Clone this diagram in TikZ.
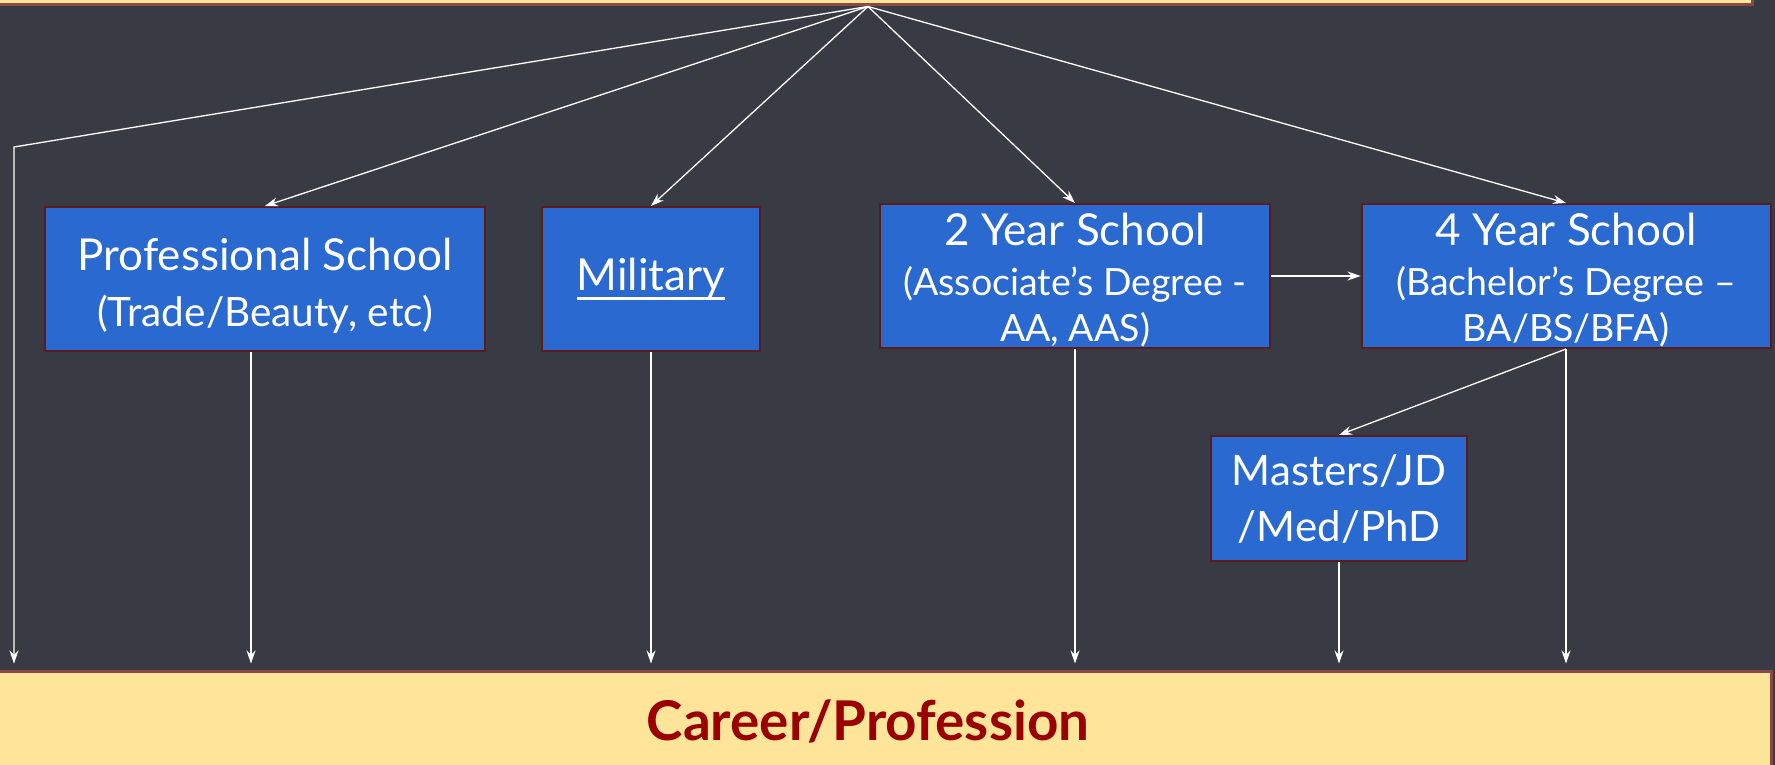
\documentclass[tikz,border=0pt]{standalone}
\usepackage{fontspec}
\setmainfont{Lato}
\usetikzlibrary{arrows.meta, calc, positioning}

\definecolor{slate}{RGB}{57,59,68}
\definecolor{boxblue}{RGB}{42,105,207}
\definecolor{boxedge}{RGB}{92,26,26}
\definecolor{bandfill}{RGB}{255,229,153}
\definecolor{bandedge}{RGB}{140,72,70}
\definecolor{careertext}{RGB}{154,0,0}

\newcommand{\headfont}{\fontsize{44}{56}\selectfont}
\newcommand{\midfont}{\fontsize{40.5}{56}\selectfont}
\newcommand{\subfont}{\fontsize{37.5}{46}\selectfont}
\newcommand{\careerfont}{\fontsize{54.8}{60}\selectfont\bfseries}
\newcommand{\underrule}[1]{\setbox0\hbox{#1}\rlap{\rule[-9pt]{\wd0}{3pt}}\box0}

\begin{document}
\begin{tikzpicture}[>={Stealth[length=13pt, width=9pt]}, x=1pt, y=-1pt]
	\tikzstyle{school} = [draw=boxedge, line width=2pt, fill=boxblue, text=white,
	align=center, inner sep=0pt, font=\subfont]
	\tikzstyle{band} = [draw=bandedge, line width=3pt, fill=bandfill, inner sep=0pt]
	\tikzstyle{link} = [->, white, line width=1.3pt]

	\fill[slate] (0,0) rectangle (1775,765);
	\clip (0,0) rectangle (1775,765);

	\path
		node[band, minimum width=1768pt, minimum height=105pt] (top) at (868,-47.5) {}
		node[band, minimum width=1806pt, minimum height=100pt, text=careertext,
			font=\careerfont] (career) at (868,721) {Career/Profession}

		node[school, minimum width=440pt, minimum height=144pt, font=\headfont,
			text height=95pt, text depth=0pt] (prof) at (265,279)
			{Professional School\\{\midfont (Trade/Beauty, etc)}}
		node[school, minimum width=218pt, minimum height=144pt, font=\headfont]
			(military) at (651,279) {\underrule{Military}}
		node[school, minimum width=390pt, minimum height=144pt,
			text height=130pt, text depth=0pt] (twoyear) at (1075,276)
			{{\headfont 2 Year School}\\[4pt](Associate's Degree -\\AA, AAS)}
		node[school, minimum width=409pt, minimum height=144pt,
			text height=130pt, text depth=0pt] (fouryear) at (1566,276)
			{{\headfont 4 Year School}\\[4pt](Bachelor's Degree --\\BA/BS/BFA)}
		node[school, minimum width=256pt, minimum height=125pt,
			font=\fontsize{42}{56}\selectfont] (masters) at (1339,498.5)
			{Masters/JD\\/Med/PhD}
	;

	\path[link]
		(top.south) edge (prof.north)
		(top.south) edge (military.north)
		(top.south) edge (twoyear.north)
		(top.south) edge (fouryear.north)
		(twoyear.east) edge (fouryear.west)
		(fouryear.south) edge (masters.north)
	;

	\coordinate (bend) at (14,147);
	\draw[link, shorten >=6pt] (top.south) -- (bend) -- (bend |- career.north);

	\path[link, shorten >=6pt]
		([xshift=-14pt]prof.south) edge ([xshift=-14pt]prof.south |- career.north)
		(military.south) edge (military.south |- career.north)
		(twoyear.south) edge (twoyear.south |- career.north)
		(masters.south) edge (masters.south |- career.north)
		(fouryear.south) edge (fouryear.south |- career.north)
	;
\end{tikzpicture}
\end{document}
